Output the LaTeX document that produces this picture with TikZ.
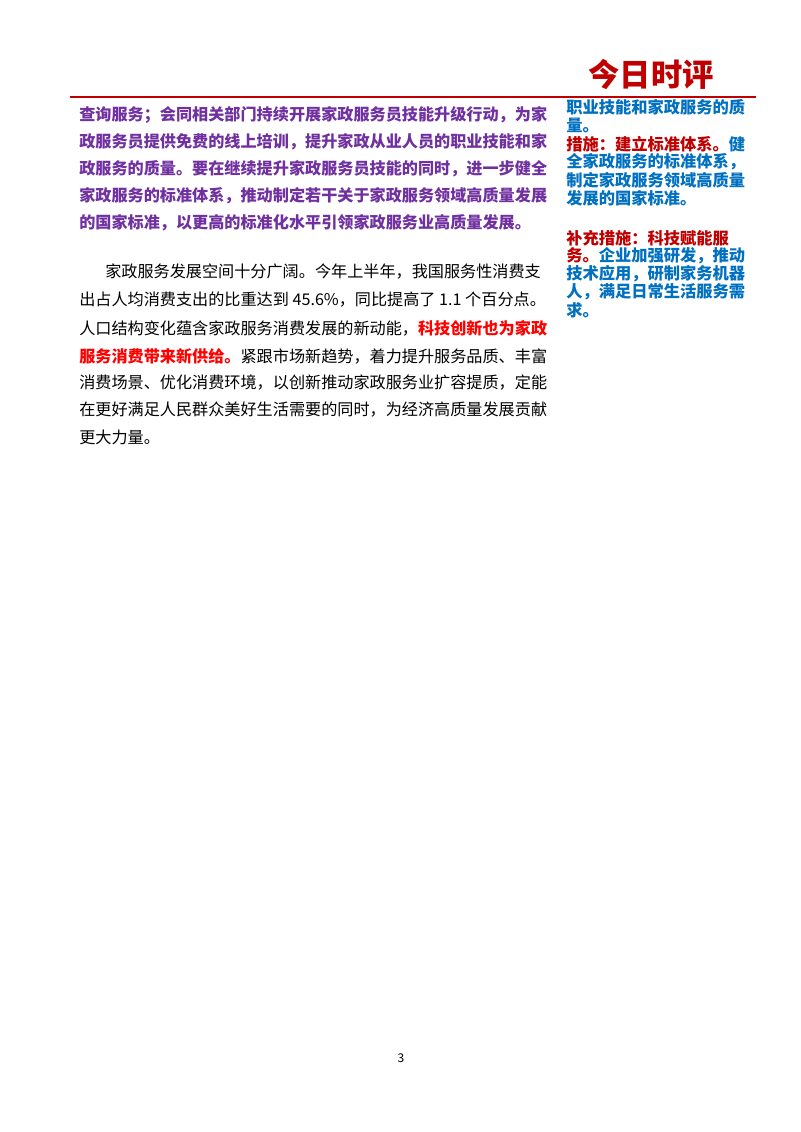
\documentclass[tikz,border=0pt]{standalone}
\usepackage{fontspec}
\setmainfont{Noto Sans CJK SC}
\definecolor{pur}{HTML}{7030A0}
\definecolor{blu}{HTML}{0070C0}
\definecolor{drd}{HTML}{C00000}
\definecolor{brd}{HTML}{FF0000}
\begin{document}
\begin{tikzpicture}[x=0.75pt,y=-0.75pt,
  mainln/.style={anchor=west,inner sep=0,font=\fontsize{12.1}{14}\selectfont},
  sideln/.style={anchor=west,inner sep=0,font=\fontsize{12.2}{14}\selectfont\bfseries,text=blu}]
\useasboundingbox[fill=white] (0,0) rectangle (800,1132);
\node[text=drd,font=\fontsize{23.5}{26}\selectfont\bfseries,inner sep=0] (logo) at (651,74) {今日时评};
\draw[drd,line width=2.2pt] (70,97) -- (756,97);
% purple paragraph
\foreach \t [count=\i] in {查询服务；会同相关部门持续开展家政服务员技能升级行动，为家,政服务员提供免费的线上培训，提升家政从业人员的职业技能和家,政服务的质量。要在继续提升家政服务员技能的同时，进一步健全,家政服务的标准体系，推动制定若干关于家政服务领域高质量发展,的国家标准，以更高的标准化水平引领家政服务业高质量发展。}
  \node[mainln,text=pur,font=\fontsize{12.1}{14}\selectfont\bfseries] (p\i) at (79,{88+27*\i}) {\t};
% second paragraph
\node[mainln] (q1) at (105,272) {家政服务发展空间十分广阔。今年上半年，我国服务性消费支};
\node[mainln] (q2) at (79,300) {出占人均消费支出的比重达到 45.6\%，同比提高了 1.1 个百分点。};
\node[mainln] (q3) at (79,328) {人口结构变化蕴含家政服务消费发展的新动能，\textcolor{brd}{\bfseries 科技创新也为家政}};
\node[mainln] (q4) at (79,356) {\textcolor{brd}{\bfseries 服务消费带来新供给。}紧跟市场新趋势，着力提升服务品质、丰富};
\node[mainln] (q5) at (79,383) {消费场景、优化消费环境，以创新推动家政服务业扩容提质，定能};
\node[mainln] (q6) at (79,410) {在更好满足人民群众美好生活需要的同时，为经济高质量发展贡献};
\node[mainln] (q7) at (79,437) {更大力量。};
% side column
\node[sideln] (s1) at (566,107) {职业技能和家政服务的质};
\node[sideln] (s2) at (566,125) {量。};
\node[sideln] (s3) at (566,144) {\textcolor{drd}{措施：建立标准体系。}健};
\node[sideln] (s4) at (566,162) {全家政服务的标准体系，};
\node[sideln] (s5) at (566,180) {制定家政服务领域高质量};
\node[sideln] (s6) at (566,198) {发展的国家标准。};
\node[sideln] (s7) at (566,238) {\textcolor{drd}{补充措施：科技赋能服}};
\node[sideln] (s8) at (566,256) {\textcolor{drd}{务。}企业加强研发，推动};
\node[sideln] (s9) at (566,274) {技术应用，研制家务机器};
\node[sideln] (s10) at (566,292) {人，满足日常生活服务需};
\node[sideln] (s11) at (566,310) {求。};
\node[font=\fontsize{9}{10}\selectfont,inner sep=0] (pg) at (401,1058) {3};
\end{tikzpicture}
\end{document}
